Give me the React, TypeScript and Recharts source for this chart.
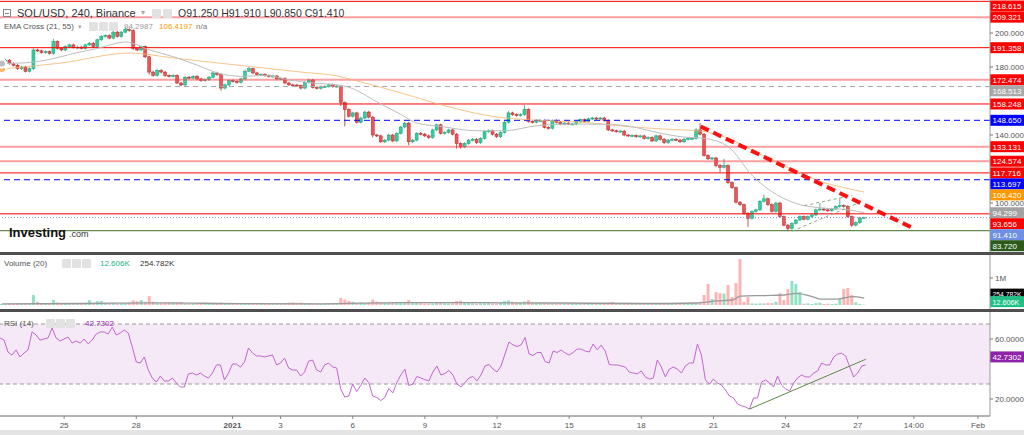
import React from "react";
import { ComposedChart, Bar, Line, XAxis, YAxis, ReferenceLine, ReferenceArea, Cell } from "recharts";

const CHART_W = 1024;
const AXIS_W = 34;
const SLOT_COUNT = 248;
const MAIN_H = 252;
const VOL_H = 54;
const RSI_H = 118;
const PRICE_DOMAIN: [number, number] = [71.2, 219.4];
const VOL_DOMAIN: [number, number] = [-148, 1852];
const RSI_DOMAIN: [number, number] = [8.67, 78];

// ---- data (4h candles, SOL/USD) ----
const firstOpen = 182.5;
const closes = [
  183, 184, 182, 181, 179, 180, 177.5, 179, 190, 189.5,
  188.5, 189, 188, 195, 191, 190, 192, 193, 191.5, 191.7,
  191, 193, 194, 192, 196, 198, 198.5, 197, 200.5, 198,
  200.5, 202, 201.5, 191, 190, 192, 186, 177, 175, 178,
  177, 175, 174.5, 175, 170.6, 169.4, 174, 173.5, 174.5, 173,
  172, 172.5, 174, 176.5, 175.5, 167.6, 169.5, 172, 171.5, 171,
  173, 177.5, 179, 176.5, 175.5, 175.6, 175, 174.5, 174.7, 173,
  173.3, 170.6, 169.5, 169.4, 169, 167.6, 171, 172.4, 168, 167.5,
  168.5, 168.5, 169.5, 168.5, 168.8, 159, 155, 151, 153, 147.5,
  150, 153.5, 150.5, 140, 139.5, 136, 137, 140, 136.5, 141,
  144.7, 147, 136, 137, 141, 140.5, 139.5, 138.5, 143, 146,
  141, 141.5, 143, 140.5, 135, 133, 135, 137, 137.5, 135.5,
  138, 142, 142.5, 140.5, 139, 141.5, 147.5, 153, 152, 151.5,
  152, 155, 148, 147.5, 148.5, 148.5, 144.5, 144, 148.5, 147.5,
  146.5, 147, 146.5, 146.5, 148, 149, 148, 149.5, 150, 149.5,
  150, 148.5, 143, 142.5, 142, 142.3, 140, 139.5, 139.7, 139,
  139.5, 138, 138.5, 136.5, 139.5, 137.5, 135.5, 137, 137.5, 137,
  136, 137.5, 138, 138, 143, 140.5, 128, 126, 126.5, 122,
  121, 122, 112, 109, 100.5, 99, 94, 91, 95, 96,
  101, 102.5, 99, 95, 100, 92, 87, 85, 88, 90,
  92, 90.5, 92, 93, 96, 96.5, 96, 95.5, 96.5, 98,
  98.5, 98, 92, 87, 88.5, 91.25, 91.41,
];
const wickDefault = 0.7;
const wickUpAt: Record<number, number> = {
  8: 1, 13: 1.5, 31: 1.5, 61: 1, 62: 1, 127: 1, 131: 2.6, 174: 1, 175: 4,
  180: 1, 181: 4, 191: 2.5, 205: 3.5, 210: 4.5, 216: 0.5,
};
const wickDownAt: Record<number, number> = {
  33: 1, 37: 1.5, 55: 1.5, 85: 2, 86: 10, 93: 1.5, 102: 2, 114: 3, 115: 1,
  179: 1, 180: 3, 186: 1, 187: 5, 197: 1.3, 213: 1, 216: 0.4,
};
const volumesK = [
  40, 35, 45, 50, 60, 45, 55, 50, 370, 120,
  60, 50, 70, 190, 90, 60, 50, 45, 55, 40,
  50, 60, 180, 60, 140, 150, 60, 55, 70, 50,
  60, 70, 80, 170, 140, 180, 120, 330, 120, 70,
  60, 80, 100, 100, 100, 110, 50, 40, 45, 50,
  40, 35, 45, 60, 80, 90, 50, 55, 40, 45,
  50, 60, 55, 60, 45, 40, 50, 45, 40, 50,
  45, 60, 90, 95, 80, 90, 70, 70, 50, 45,
  40, 60, 45, 50, 55, 260, 200, 150, 120, 80,
  90, 70, 90, 200, 130, 110, 80, 70, 90, 80,
  90, 100, 180, 110, 90, 70, 60, 60, 60, 80,
  90, 70, 60, 70, 150, 160, 90, 80, 70, 60,
  70, 70, 80, 60, 60, 90, 150, 170, 120, 90,
  80, 130, 180, 100, 80, 70, 90, 70, 60, 60,
  50, 45, 60, 40, 50, 45, 60, 40, 50, 55,
  45, 60, 90, 110, 60, 50, 70, 80, 50, 45,
  60, 50, 70, 60, 50, 45, 60, 50, 40, 55,
  50, 45, 60, 50, 70, 120, 370, 780, 220, 480,
  440, 420, 740, 300, 810, 1700, 120, 300, 60, 50,
  60, 60, 80, 70, 120, 440, 180, 590, 890, 780,
  480, 50, 60, 40, 70, 80, 40, 50, 40, 50,
  220, 590, 630, 370, 100, 40, 12.606,
];
const rsiValues = [
  60.7, 59.3, 51.3, 49.3, 52.7, 48, 50.7, 52.7, 64.7, 62.7,
  59.3, 60, 60.7, 67.3, 60.7, 58.7, 60, 61.3, 57.3, 58.7,
  57.3, 60, 56.7, 59.3, 63.3, 64.7, 64.7, 63.3, 68, 62.7,
  64, 66, 64, 54.7, 44.7, 44, 48, 39.3, 34, 31.3,
  35.3, 32, 32, 34, 30.7, 28, 28, 36.7, 37.3, 36,
  37.3, 35.3, 34, 37.3, 42.7, 42.7, 32.7, 37.3, 43.3, 43.3,
  41.3, 44.7, 54, 50.7, 48.7, 48.7, 48, 48.7, 49.3, 42.7,
  44, 47.3, 40.7, 39.3, 39.3, 35.3, 38, 45.3, 46, 39.3,
  38, 42.7, 44, 41.3, 40.7, 26.7, 21.3, 22, 30, 25,
  29, 34, 31, 22, 21, 19, 21, 27, 24, 31,
  36, 40, 29, 30, 35, 34, 33, 32, 38, 42,
  36, 37, 39, 36, 30, 28, 31, 34, 35, 32,
  36, 42, 43, 40, 38, 42, 50, 58, 56, 55,
  56, 61, 50, 49, 51, 51, 45, 44, 52, 51,
  52.7, 50.7, 49.3, 51, 53.3, 53.3, 52, 51.3, 56.7, 52.7,
  56, 52, 43, 42.7, 42.7, 42, 41.3, 38, 37.3, 36.7,
  38.7, 34.7, 33.3, 34, 46, 41.3, 34.7, 40, 41.3, 40,
  37.3, 42, 44, 44, 56.7, 49.3, 32.7, 30, 33.3, 30.7,
  29.3, 26, 22, 20.7, 16.7, 15.5, 14.7, 13.3, 20.7, 20.7,
  31.3, 32.7, 30.7, 28, 35.3, 29.3, 26.7, 25.3, 30.7, 34,
  36, 34.7, 34.7, 37.3, 38.7, 44, 42.7, 42.7, 48, 50,
  50.5, 48.7, 41.3, 34.7, 37.3, 42, 42.73,
];
const ema21Points: [number, number][] = [
  [0, 182], [6, 182.5], [12, 184.5], [18, 188], [24, 191], [31, 194.7], [37, 190], [43, 186],
  [49, 181], [54, 176.5], [60, 174.5], [66, 175], [72, 172.4], [78, 170.5], [84, 169.5],
  [87, 168], [94, 159.4], [100, 152], [104, 147], [110, 145], [119, 142.5], [126, 142.5],
  [134, 145.5], [144, 146.5], [154, 146], [159, 144.3], [165, 141], [170, 139], [176, 138],
  [182, 133], [188, 116], [194, 105], [200, 99], [206, 97], [212, 96], [216, 94.3],
];
const ema55Points: [number, number][] = [
  [0, 178.8], [15, 182.4], [32, 188.2], [43, 185.3], [54, 182.4], [75, 177], [84, 174.7],
  [87, 173], [100, 164.7], [112, 156.5], [124, 150.6], [133, 148.8], [145, 147.6],
  [158, 144.7], [170, 143], [175, 142.4], [182, 138], [188, 131], [194, 124], [200, 117.5],
  [206, 112], [212, 108.5], [216, 106.42],
];
const volMaPoints: [number, number][] = [
  [0, 45], [20, 55], [40, 80], [60, 50], [80, 45], [100, 90], [120, 85], [140, 75], [160, 55],
  [174, 75], [179, 150], [183, 185], [185, 330], [191, 350], [196, 370], [199, 430], [203, 310],
  [205, 220], [209, 220], [211, 260], [213, 310], [216, 255],
];
const tickIdx = [16, 34, 58, 70, 88, 106, 124, 142, 160, 178, 196, 214, 228, 244];
const tickText = ["25", "28", "2021", "3", "6", "9", "12", "15", "18", "21", "24", "27", "14:00", "Feb"];

const levelValues = [218.615, 209.321, 191.358, 172.474, 168.513, 158.248, 148.65, 133.131, 124.574, 117.716, 113.697, 106.42, 94.299, 93.656, 91.41, 83.72];
const levelKinds = ["red", "pink", "red", "pink", "grey", "red", "blue", "pink", "pink", "red", "blue", "ema55", "ema21", "red", "close", "green"];

const trendLine = [{ x: 175, y: 145 }, { x: 228, y: 85.5 }];
const channelLow = [{ x: 198, y: 83.5 }, { x: 215, y: 100.5 }];
const channelHigh = [{ x: 201, y: 98.5 }, { x: 213, y: 104.5 }];
const rsiTrend = [{ x: 187, y: 13.3 }, { x: 216, y: 46.5 }];

// ---- styles ----
const UP = "#2fcf9f";
const UP_EDGE = "#1e9e78";
const DOWN = "#f05454";
const DOWN_EDGE = "#b02a2a";
const KIND_STYLE: Record<string, { line?: string; width?: number; dash?: string; opacity?: number; tag: string }> = {
  red: { line: "#ff0000", width: 1, tag: "#ff0000" },
  pink: { line: "#ff4040", width: 2, opacity: 0.5, tag: "#ff0000" },
  grey: { line: "#a8a8a8", width: 1, dash: "5 4", tag: "#a9a9a9" },
  blue: { line: "#0000ff", width: 1, dash: "6 4", tag: "#0000ff" },
  ema55: { tag: "#ff9800" },
  ema21: { tag: "#a3a3a3" },
  close: { line: "#6d8fe6", width: 1, dash: "1 2", tag: "#6d8fe6" },
  green: { line: "#3f6e28", width: 1, tag: "#2b5a1b" },
};

// ---- build rows ----
const rows: any[] = Array.from({ length: SLOT_COUNT }, (_, i) => {
  const r: any = { i };
  if (i < closes.length) {
    const o = i === 0 ? firstOpen : closes[i - 1];
    const c = closes[i];
    const h = Math.max(o, c) + (wickUpAt[i] ?? wickDefault);
    const l = Math.min(o, c) - (wickDownAt[i] ?? wickDefault);
    r.o = o; r.c = c; r.h = h; r.l = l;
    r.range = [l, h];
    r.up = c >= o;
    r.vol = volumesK[i];
    r.rsi = rsiValues[i];
  }
  return r;
});
ema21Points.forEach(([i, v]) => (rows[i].ema21 = v));
ema55Points.forEach(([i, v]) => (rows[i].ema55 = v));
volMaPoints.forEach(([i, v]) => (rows[i].vma = v));

// label collision shift (stack tags downward so they do not overlap, keep inside the pane)
const pxPerUnit = MAIN_H / (PRICE_DOMAIN[1] - PRICE_DOMAIN[0]);
const levelShift: number[] = (() => {
  const order = levelValues.map((v, k) => k).sort((a, b) => levelValues[b] - levelValues[a]);
  const out = new Array(levelValues.length).fill(0);
  let prev = -1e9;
  order.forEach((k) => {
    const base = (PRICE_DOMAIN[1] - levelValues[k]) * pxPerUnit;
    const y = Math.max(base, prev + 11, 6);
    out[k] = y - base;
    prev = y;
  });
  return out;
})();

const makeTag = (text: string, bg: string, dy: number, fs = 8, fg = "#fff") => (props: any) => {
  const vb = props.viewBox || {};
  const x0 = (vb.x ?? 0) + (vb.width ?? 0);
  const yy = (vb.y ?? 0) + dy;
  return (
    <g>
      <rect x={x0} y={yy - 5.5} width={AXIS_W} height={11} fill={bg} />
      <text x={x0 + 2.5} y={yy + 3} fontSize={fs} fill={fg}>{text}</text>
    </g>
  );
};

const Candle = (props: any) => {
  const { x, y, width, height, payload } = props;
  if (!payload || payload.o == null) return null;
  const { o, c, h, l, up } = payload;
  const top = Math.min(y, y + height);
  const hh = Math.abs(height);
  const k = hh / (h - l);
  const yO = top + (h - o) * k;
  const yC = top + (h - c) * k;
  const bt = Math.min(yO, yC);
  const bh = Math.max(1, Math.abs(yO - yC));
  const cx = x + width / 2;
  return (
    <g>
      <line x1={cx} x2={cx} y1={top} y2={top + hh} stroke={up ? UP_EDGE : DOWN_EDGE} strokeWidth={0.8} />
      <rect x={x} y={bt} width={width} height={bh} fill={up ? UP : DOWN} stroke={up ? UP_EDGE : DOWN_EDGE} strokeWidth={0.5} />
    </g>
  );
};

const XTick = (props: any) => {
  const { x, y, payload } = props;
  const k = tickIdx.indexOf(payload.value);
  const txt = k >= 0 ? tickText[k] : "";
  return (
    <text x={x} y={y + 7} textAnchor="middle" fontSize={8} fill="#555" fontWeight={txt === "2021" ? 700 : 400}>
      {txt}
    </text>
  );
};

const axisProps = {
  orientation: "right" as const,
  width: AXIS_W,
  tickSize: 3,
  tickMargin: 2,
  axisLine: { stroke: "#9a9a9a" },
  tickLine: { stroke: "#777" },
  tick: { fontSize: 8, fill: "#555" },
};
const M0 = { top: 0, right: 0, bottom: 0, left: 0 };

function MainChart() {
  return (
    <ComposedChart width={CHART_W} height={MAIN_H} data={rows} margin={M0}>
      <XAxis dataKey="i" type="category" hide />
      <YAxis {...axisProps} domain={PRICE_DOMAIN} allowDataOverflow ticks={[100, 140, 180, 200]} tickFormatter={(v: number) => v.toFixed(3)} />
      {levelValues.map((v, k) => {
        const s = KIND_STYLE[levelKinds[k]];
        return (
          <ReferenceLine
            key={"lv" + k}
            y={v}
            stroke={s.line ?? "none"}
            strokeWidth={s.width ?? 1}
            strokeDasharray={s.dash}
            strokeOpacity={s.opacity ?? 1}
            label={makeTag(v.toFixed(3), s.tag, levelShift[k])}
          />
        );
      })}
      <Line dataKey="ema55" type="monotone" connectNulls stroke="#f8b56a" strokeOpacity={0.8} strokeWidth={1} dot={false} isAnimationActive={false} />
      <Line dataKey="ema21" type="monotone" connectNulls stroke="#bdbdbd" strokeWidth={1} dot={false} isAnimationActive={false} />
      <Bar dataKey="range" barSize={3} shape={Candle} isAnimationActive={false} />
      <ReferenceLine segment={channelLow} stroke="#8fa37c" strokeDasharray="3 3" strokeWidth={1} />
      <ReferenceLine segment={channelHigh} stroke="#8fa37c" strokeDasharray="3 3" strokeWidth={1} />
      <ReferenceLine segment={trendLine} stroke="#ff1010" strokeWidth={4} strokeDasharray="9 5" />
    </ComposedChart>
  );
}

function VolumeChart() {
  return (
    <ComposedChart width={CHART_W} height={VOL_H} data={rows} margin={M0}>
      <XAxis dataKey="i" type="category" hide />
      <YAxis {...axisProps} domain={VOL_DOMAIN} allowDataOverflow ticks={[1000]} tickFormatter={() => "1M"} />
      <Bar dataKey="vol" barSize={3} isAnimationActive={false}>
        {rows.map((r, k) => (
          <Cell key={k} fill={r.up ? "#8fe3c4" : "#ffb3b3"} />
        ))}
      </Bar>
      <Line dataKey="vma" type="monotone" connectNulls stroke="#9a9a9a" strokeWidth={1.3} dot={false} isAnimationActive={false} />
      <ReferenceLine y={254.782} stroke="none" label={makeTag("254.782K", "#000000", -4, 6.8)} />
      <ReferenceLine y={12.606} stroke="none" label={makeTag("12.606K", "#20c187", -3, 7.2)} />
    </ComposedChart>
  );
}

function RsiChart() {
  return (
    <ComposedChart width={CHART_W} height={RSI_H} data={rows} margin={M0}>
      <XAxis
        dataKey="i"
        type="category"
        ticks={tickIdx}
        interval={0}
        height={14}
        tick={<XTick />}
        tickSize={3}
        axisLine={{ stroke: "#666" }}
        tickLine={{ stroke: "#888" }}
      />
      <YAxis {...axisProps} domain={RSI_DOMAIN} allowDataOverflow ticks={[20, 60]} tickFormatter={(v: number) => v.toFixed(4)} />
      <ReferenceArea y1={30} y2={70} fill="#9c27b0" fillOpacity={0.1} stroke="none" />
      <ReferenceLine y={70} stroke="#9a9a9a" strokeDasharray="4 3" />
      <ReferenceLine y={30} stroke="#9a9a9a" strokeDasharray="4 3" />
      <Line dataKey="rsi" type="linear" stroke="#c266cf" strokeWidth={1} dot={false} isAnimationActive={false} />
      <ReferenceLine segment={rsiTrend} stroke="#5d8a45" strokeWidth={1} />
      <ReferenceLine y={42.7302} stroke="none" label={makeTag("42.7302", "#8e24aa", -8)} />
    </ComposedChart>
  );
}

const IconBox = ({ left, top }: { left: number; top: number }) => (
  <div style={{ position: "absolute", left, top, width: 9, height: 9, background: "#e2e2e2", borderRadius: 1 }} />
);

export default function App() {
  const txt = (left: number, top: number, text: string, style: React.CSSProperties) => (
    <div style={{ position: "absolute", left, top, whiteSpace: "nowrap", lineHeight: 1, ...style }}>{text}</div>
  );
  return (
    <div style={{ position: "absolute", left: 0, top: 0, width: 1024, height: 435, background: "#fff", overflow: "hidden", fontFamily: "'Liberation Sans', Arial, sans-serif" }}>
      <div style={{ position: "absolute", left: 0, top: 0 }}><MainChart /></div>
      <div style={{ position: "absolute", left: 0, top: 252, width: 1024, height: 3, background: "#4f4f4f" }} />
      <div style={{ position: "absolute", left: 0, top: 255 }}><VolumeChart /></div>
      <div style={{ position: "absolute", left: 0, top: 309, width: 1024, height: 3, background: "#4f4f4f" }} />
      <div style={{ position: "absolute", left: 0, top: 312 }}><RsiChart /></div>
      <div style={{ position: "absolute", left: 0, top: 430, width: 1024, height: 5, background: "#e4e4e4" }} />

      {/* header */}
      <div style={{ position: "absolute", left: 3, top: 9, width: 8, height: 8, border: "1px solid #888", boxSizing: "border-box" }}>
        <div style={{ position: "absolute", left: 1, top: 3, width: 4, height: 1, background: "#888" }} />
      </div>
      {txt(17, 8, "SOL/USD, 240, Binance", { fontSize: 11, color: "#333" })}
      {txt(141, 9, "▾", { fontSize: 8, color: "#aaa" })}
      <IconBox left={152} top={9} />
      <IconBox left={163} top={9} />
      {txt(178, 8, "O91.250  H91.910  L90.850  C91.410", { fontSize: 10.5, color: "#333" })}

      {txt(4, 23, "EMA Cross (21, 55)", { fontSize: 8, color: "#555" })}
      {txt(78, 23, "▾", { fontSize: 7, color: "#aaa" })}
      <IconBox left={89} top={22} />
      <IconBox left={99} top={22} />
      <IconBox left={109} top={22} />
      {txt(124, 23, "94.2987", { fontSize: 8, color: "#999" })}
      {txt(159, 23, "106.4197", { fontSize: 8, color: "#ff9800" })}
      {txt(196, 23, "n/a", { fontSize: 8, color: "#777" })}

      {txt(9, 226, "Investing", { fontSize: 13, fontWeight: 700, color: "#111" })}
      {txt(69, 230, ".com", { fontSize: 9, color: "#333" })}

      {txt(4, 260, "Volume (20)", { fontSize: 8, color: "#555" })}
      <IconBox left={62} top={259} />
      <IconBox left={72} top={259} />
      <IconBox left={82} top={259} />
      {txt(100, 260, "12.606K", { fontSize: 8, color: "#20b584" })}
      {txt(140, 260, "254.782K", { fontSize: 8, color: "#333" })}

      {txt(4, 320, "RSI (14)", { fontSize: 8, color: "#555" })}
      <IconBox left={46} top={319} />
      <IconBox left={56} top={319} />
      <IconBox left={66} top={319} />
      {txt(85, 320, "42.7302", { fontSize: 8, color: "#9c27b0" })}
    </div>
  );
}
